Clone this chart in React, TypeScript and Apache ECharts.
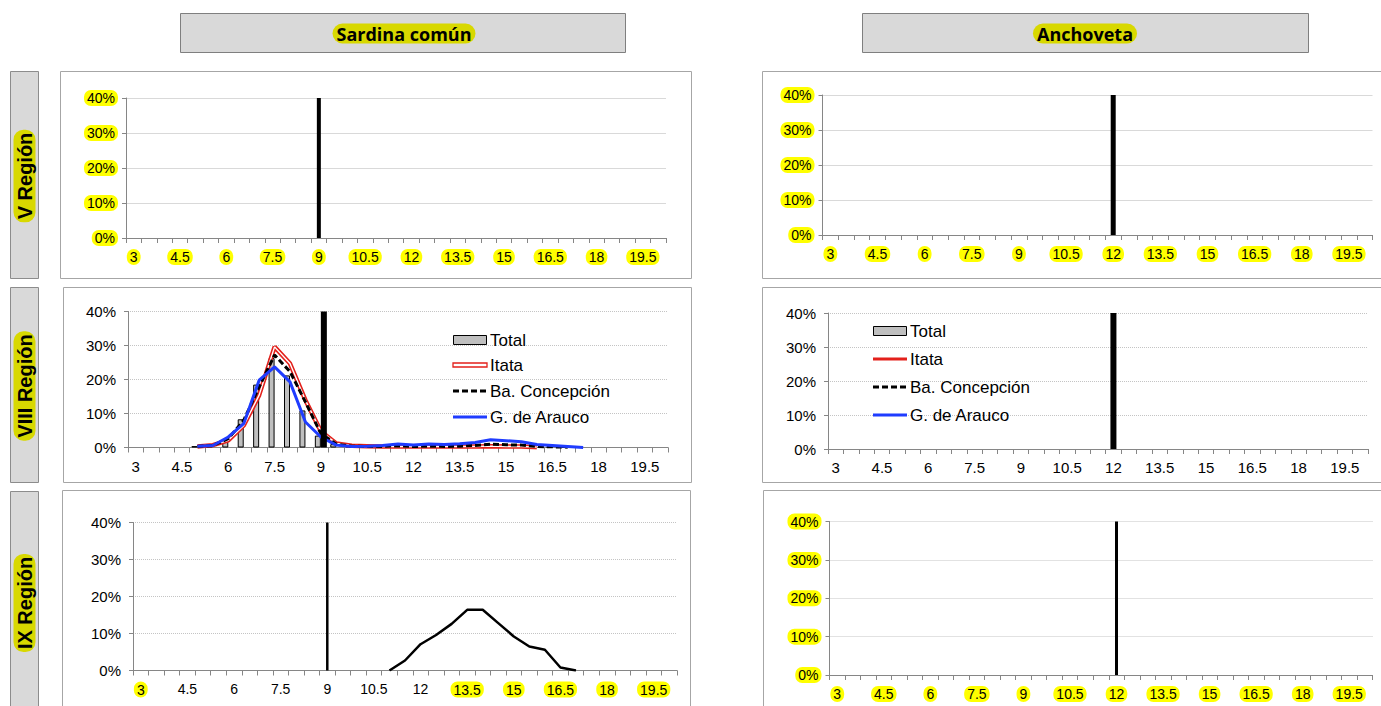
import React, { useEffect, useRef } from 'react';
import * as echarts from 'echarts';

// ---------- data ----------
const tallas = ['3','3.5','4','4.5','5','5.5','6','6.5','7','7.5','8','8.5','9','9.5','10','10.5','11','11.5','12','12.5','13','13.5','14','14.5','15','15.5','16','16.5','17','17.5','18','18.5','19','19.5','20'];

const especies = ['Sardina común', 'Anchoveta'];
const regiones = ['V Región', 'VIII Región', 'IX Región'];
const seriesNames = ['Total', 'Itata', 'Ba. Concepción', 'G. de Arauco'];

const tallaMinSardina = '9';
const tallaMinAnchoveta = '12';
const alturaReferencia = 40;

// VIII Región, Sardina común (%)
const totalVIII = [null,null,null,null,0.4,0.5,1.7,8.3,18.5,26.3,21.2,10.9,3.5,1.0,0.4,0.3,0.3,0.5,0.4,0.4,0.3,0.5,0.6,1.2,0.8,0.7,0.3,0.2,0.1,null,null,null,null,null,null];
const itataVIII = [null,null,null,null,0.3,0.7,2.1,6.5,15.4,29.6,24.7,13.9,4.8,1.2,0.5,0.4,0.3,0.3,0.3,0.3,0.3,0.3,0.3,0.4,0.3,0.3,0.1,null,null,null,null,null,null,null,null];
const concepcionVIII = [null,null,null,null,0.3,0.6,2.6,8.0,17.8,27.2,22.3,13.4,4.1,1.0,0.4,0.3,0.3,0.5,0.3,0.4,0.3,0.4,0.6,1.0,0.8,0.7,0.3,0.2,0.1,null,null,null,null,null,null];
const araucoVIII = [null,null,null,null,0.4,0.6,3.1,7.0,19.8,23.7,19.3,7.5,3.1,0.7,0.3,0.4,0.6,1.0,0.7,1.0,0.9,1.1,1.5,2.3,2.0,1.7,0.9,0.6,0.3,0.0,null,null,null,null,null];

// IX Región, Sardina común (%)
const totalIX = [null,null,null,null,null,null,null,null,null,null,null,null,null,null,null,null,0,2.7,7.1,9.6,12.6,16.4,16.4,12.8,9.2,6.5,5.6,0.8,0,null,null,null,null,null,null];

const ixLeftHighlighted = ['3', '13.5', '15', '16.5', '18', '19.5'];

// ---------- styles ----------
const FONT = '"Liberation Sans", Arial, sans-serif';
const AXIS_GRAY = '#868686';
const RED = '#e3201b';
const BLUE = '#1f3cff';

const marker = (talla: string) => tallas.map((t) => (t === talla ? alturaReferencia : null));

function xAxisCfg(gridIndex: number, hl: (v: string) => boolean, fontSize: number, margin: number) {
  return {
    type: 'category',
    gridIndex,
    data: tallas,
    boundaryGap: true,
    axisLine: { show: true, lineStyle: { color: AXIS_GRAY, width: 1 } },
    axisTick: { show: true, interval: 0, length: 5, lineStyle: { color: AXIS_GRAY } },
    axisLabel: {
      interval: 2,
      margin,
      color: '#000',
      fontSize,
      fontFamily: FONT,
      formatter: (v: string) => (hl(v) ? `{h|${v}}` : v),
      rich: {
        h: { backgroundColor: '#ffff00', borderRadius: 7, padding: [1, 3, 1, 3], color: '#000', fontSize, fontFamily: FONT },
      },
    },
    splitLine: { show: false },
  };
}

function yAxisCfg(gridIndex: number, hl: boolean, dotted: boolean, fontSize: number, margin: number) {
  return {
    type: 'value',
    gridIndex,
    min: 0,
    max: 40,
    interval: 10,
    axisLine: { show: true, lineStyle: { color: AXIS_GRAY, width: 1 } },
    axisTick: { show: true, length: 4, lineStyle: { color: AXIS_GRAY } },
    axisLabel: {
      margin,
      color: '#000',
      fontSize,
      fontFamily: FONT,
      formatter: (v: number) => (hl ? `{h|${v}%}` : `${v}%`),
      rich: {
        h: { backgroundColor: '#ffff00', borderRadius: 7, padding: [1, 3, 1, 3], color: '#000', fontSize, fontFamily: FONT },
      },
    },
    splitLine: { show: true, lineStyle: { color: dotted ? '#c4c4c4' : '#d9d9d9', width: 1, type: dotted ? 'dotted' : 'solid' } },
  };
}

function txt(x: number, y: number, text: string, extra: any = {}, rotation = 0) {
  const align = extra.align || 'left';
  const valign = extra.verticalAlign || 'middle';
  return {
    type: 'text',
    x,
    y,
    rotation,
    z: 100,
    style: {
      text,
      fill: '#000',
      fontFamily: FONT,
      fontSize: 17,
      ...extra,
      align,
      verticalAlign: valign,
      textAlign: align,
      textVerticalAlign: valign,
    },
  };
}

function box(x: number, y: number, w: number, h: number, fill: string, stroke: string) {
  return { type: 'rect', z: 1, shape: { x, y, width: w, height: h }, style: { fill, stroke, lineWidth: 1 } };
}

function legendGroup(x0: number, tx: number, rows: number[], itataDouble: boolean) {
  const w = 34;
  const els: any[] = [];
  els.push({ type: 'rect', z: 100, shape: { x: x0 + 0.5, y: rows[0] - 4.5, width: w - 1, height: 9 }, style: { fill: '#bfbfbf', stroke: '#000', lineWidth: 1 } });
  if (itataDouble) {
    els.push({ type: 'rect', z: 100, shape: { x: x0, y: rows[1] - 2, width: w, height: 4 }, style: { fill: '#fff', stroke: RED, lineWidth: 1.3 } });
  } else {
    els.push({ type: 'line', z: 100, shape: { x1: x0, y1: rows[1], x2: x0 + w, y2: rows[1] }, style: { stroke: RED, lineWidth: 3 } });
  }
  els.push({ type: 'line', z: 100, shape: { x1: x0, y1: rows[2], x2: x0 + w, y2: rows[2] }, style: { stroke: '#000', lineWidth: 3, lineDash: [6, 3] } });
  els.push({ type: 'line', z: 100, shape: { x1: x0, y1: rows[3], x2: x0 + w, y2: rows[3] }, style: { stroke: BLUE, lineWidth: 3 } });
  seriesNames.forEach((n, i) => els.push(txt(tx, rows[i], n, { fontSize: 17 })));
  return els;
}

export default function App() {
  const ref = useRef<HTMLDivElement>(null);

  useEffect(() => {
    if (!ref.current) return;
    const chart = echarts.init(ref.current, undefined, { renderer: 'svg' });

    const grids = [
      { left: 126, top: 98, width: 540, height: 140 },
      { left: 128, top: 311.5, width: 540, height: 136 },
      { left: 133, top: 522.5, width: 544, height: 148 },
      { left: 822.5, top: 95, width: 550, height: 140 },
      { left: 828, top: 313, width: 540, height: 136 },
      { left: 829.5, top: 521.5, width: 543, height: 153.5 },
    ];

    const all = () => true;
    const none = () => false;

    const xAxis = [
      xAxisCfg(0, all, 14, 11),
      xAxisCfg(1, none, 15, 11),
      xAxisCfg(2, (v) => ixLeftHighlighted.includes(v), 14, 11),
      xAxisCfg(3, all, 14, 11),
      xAxisCfg(4, none, 15, 11),
      xAxisCfg(5, all, 14, 11),
    ];
    const yAxis = [
      yAxisCfg(0, true, false, 14, 8),
      yAxisCfg(1, false, true, 15, 12),
      yAxisCfg(2, false, true, 15, 12),
      yAxisCfg(3, true, false, 14, 8),
      yAxisCfg(4, false, true, 15, 12),
      yAxisCfg(5, true, true, 14, 8),
    ];

    const series: any[] = [
      // V Región, sardina
      { type: 'bar', xAxisIndex: 0, yAxisIndex: 0, data: marker(tallaMinSardina), barWidth: 4, itemStyle: { color: '#000' }, silent: true },
      // VIII Región, sardina
      { type: 'bar', name: 'Total', xAxisIndex: 1, yAxisIndex: 1, data: totalVIII, barWidth: 6, barGap: '0%', itemStyle: { color: '#bfbfbf', borderColor: '#000', borderWidth: 1 } },
      { type: 'line', name: 'Itata', xAxisIndex: 1, yAxisIndex: 1, data: itataVIII, symbol: 'none', lineStyle: { color: RED, width: 4.5 }, z: 3 },
      { type: 'line', name: 'Itata', xAxisIndex: 1, yAxisIndex: 1, data: itataVIII, symbol: 'none', lineStyle: { color: '#fff', width: 1.4 }, z: 3 },
      { type: 'line', name: 'Ba. Concepción', xAxisIndex: 1, yAxisIndex: 1, data: concepcionVIII, symbol: 'none', lineStyle: { color: '#000', width: 3, type: [6, 3] }, z: 3 },
      { type: 'line', name: 'G. de Arauco', xAxisIndex: 1, yAxisIndex: 1, data: araucoVIII, symbol: 'none', lineStyle: { color: BLUE, width: 3 }, z: 3 },
      { type: 'bar', xAxisIndex: 1, yAxisIndex: 1, data: marker(tallaMinSardina), barWidth: 6, barGap: '0%', itemStyle: { color: '#000' }, z: 4 },
      // IX Región, sardina
      { type: 'bar', xAxisIndex: 2, yAxisIndex: 2, data: marker(tallaMinSardina), barWidth: 2.5, itemStyle: { color: '#000' } },
      { type: 'line', name: 'Total IX', xAxisIndex: 2, yAxisIndex: 2, data: totalIX, symbol: 'none', lineStyle: { color: '#000', width: 2.5 } },
      // Anchoveta
      { type: 'bar', xAxisIndex: 3, yAxisIndex: 3, data: marker(tallaMinAnchoveta), barWidth: 5, itemStyle: { color: '#000' } },
      { type: 'bar', xAxisIndex: 4, yAxisIndex: 4, data: marker(tallaMinAnchoveta), barWidth: 6, itemStyle: { color: '#000' } },
      { type: 'bar', xAxisIndex: 5, yAxisIndex: 5, data: marker(tallaMinAnchoveta), barWidth: 3, itemStyle: { color: '#000' } },
    ];

    const HEAD_HL = '#d8d800';
    const graphic: any[] = [
      // headers
      box(180.5, 13.5, 445, 39, '#d9d9d9', '#7f7f7f'),
      box(862.5, 13.5, 446, 39, '#d9d9d9', '#7f7f7f'),
      txt(404, 33.5, especies[0], { align: 'center', fontFamily: '"Open Sans", sans-serif', fontWeight: 'bold', fontSize: 18, backgroundColor: HEAD_HL, padding: [1, 4, 1, 4], borderRadius: 10 }),
      txt(1085, 33.5, especies[1], { align: 'center', fontFamily: '"Open Sans", sans-serif', fontWeight: 'bold', fontSize: 18, backgroundColor: HEAD_HL, padding: [1, 4, 1, 4], borderRadius: 10 }),
      // region boxes
      box(10.5, 71.5, 28, 207, '#d9d9d9', '#8c8c8c'),
      box(10.5, 287.5, 28, 195, '#d9d9d9', '#8c8c8c'),
      box(10.5, 491.5, 28, 230, '#d9d9d9', '#8c8c8c'),
      txt(24.5, 176, regiones[0], { align: 'center', fontWeight: 'bold', fontSize: 20, backgroundColor: HEAD_HL, padding: [1, 3, 1, 3], borderRadius: 10 }, Math.PI / 2),
      txt(24.5, 386, regiones[1], { align: 'center', fontWeight: 'bold', fontSize: 20, backgroundColor: HEAD_HL, padding: [1, 3, 1, 3], borderRadius: 10 }, Math.PI / 2),
      txt(24.5, 603, regiones[2], { align: 'center', fontWeight: 'bold', fontSize: 20, backgroundColor: HEAD_HL, padding: [1, 3, 1, 3], borderRadius: 10 }, Math.PI / 2),
      // chart panels
      box(60.5, 71.5, 631, 207, 'none', '#a6a6a6'),
      box(63.5, 287.5, 628, 195, 'none', '#a6a6a6'),
      box(62.5, 490.5, 628, 230, 'none', '#a6a6a6'),
      box(762.5, 71.5, 640, 207, 'none', '#a6a6a6'),
      box(762.5, 287.5, 640, 195, 'none', '#a6a6a6'),
      box(763.5, 490.5, 640, 230, 'none', '#a6a6a6'),
      // legends
      ...legendGroup(453, 490, [340, 365, 391, 417], true),
      ...legendGroup(873, 910, [331, 359, 387, 415], false),
    ];

    chart.setOption({
      animation: false,
      backgroundColor: '#fff',
      grid: grids.map((g) => ({ ...g, containLabel: false })),
      xAxis,
      yAxis,
      series,
      graphic,
    });

    return () => chart.dispose();
  }, []);

  return <div ref={ref} style={{ position: 'absolute', left: 0, top: 0, width: 1381, height: 706 }} />;
}
